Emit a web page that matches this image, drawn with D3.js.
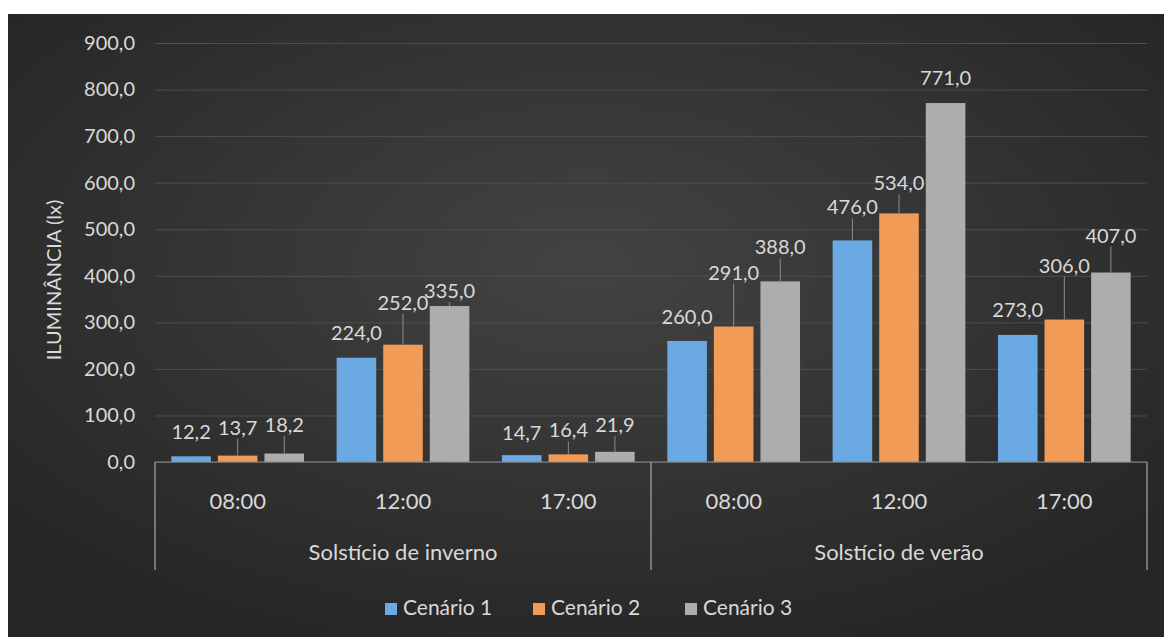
<!DOCTYPE html>
<html lang="pt">
<head>
<meta charset="utf-8">
<title>Iluminância</title>
<script src="https://cdn.jsdelivr.net/npm/d3@7"></script>
<style>
  body { margin: 0; background: #fff; }
  text { font-family: Lato, "Open Sans", sans-serif; fill: #d9d9d9; }
</style>
</head>
<body>
<svg id="chart" width="1164" height="637"></svg>
<script>
// data
var groups = ["Solstício de inverno", "Solstício de verão"];
var hours = ["08:00", "12:00", "17:00"];
var series = ["Cenário 1", "Cenário 2", "Cenário 3"];
var cenario1 = [12.2, 224, 14.7, 260, 476, 273];
var cenario2 = [13.7, 252, 16.4, 291, 534, 306];
var cenario3 = [18.2, 335, 21.9, 388, 771, 407];
var yTicks = [0, 100, 200, 300, 400, 500, 600, 700, 800, 900];

// label placement (px above bar top, leader line on/off) per series
var labelLift = [
  [[24, 0], [25, 0], [22, 0], [24, 0], [33, 1], [25, 0]],
  [[28, 1], [42, 1], [24, 1], [54, 1], [30, 1], [54, 1]],
  [[29, 1], [15, 1], [27, 1], [34, 1], [25, 0], [37, 1]]
];

var colors = ["#6aa9e2", "#f29b57", "#adadad"];
var values = [cenario1, cenario2, cenario3];

var cats = [];
groups.forEach(function(g) { hours.forEach(function(h) { cats.push(g + "|" + h); }); });

var svg = d3.select("#chart");
var defs = svg.append("defs");
var grad = defs.append("radialGradient").attr("id", "bg")
  .attr("cx", "50%").attr("cy", "40%").attr("r", "65%");
grad.append("stop").attr("offset", "0%").attr("stop-color", "#434343");
grad.append("stop").attr("offset", "100%").attr("stop-color", "#262626");

svg.append("rect").attr("x", 8).attr("y", 14).attr("width", 1156).attr("height", 623)
  .attr("fill", "url(#bg)");

var plotLeft = 155, plotRight = 1147, plotTop = 43, base = 462;

var x0 = d3.scaleBand().domain(cats).range([plotLeft, plotRight]);
var x1 = d3.scaleBand().domain(series).range([0, x0.bandwidth()])
  .paddingInner(0.15).paddingOuter(0.35);
var y = d3.scaleLinear().domain([0, 900]).range([base, plotTop]);

var pt = d3.formatLocale({ decimal: ",", thousands: ".", grouping: [3], currency: ["", ""] });
var fmt = pt.format(".1f");

// gridlines + tick labels
var yAxis = d3.axisLeft(y).tickValues(yTicks).tickFormat(fmt)
  .tickSize(-(plotRight - plotLeft)).tickPadding(20);
var gy = svg.append("g").attr("transform", "translate(" + plotLeft + ",0)").call(yAxis);
gy.select(".domain").remove();
gy.selectAll(".tick line").attr("stroke", "#4e4e4e").attr("stroke-width", 1);
gy.selectAll(".tick text").attr("fill", "#d9d9d9").style("font-size", "20px")
  .style("font-family", "Lato, 'Open Sans', sans-serif");

// y title
svg.append("text")
  .attr("transform", "translate(54,280) rotate(-90)")
  .attr("text-anchor", "middle").attr("dy", "0.35em")
  .style("font-size", "20px")
  .text("ILUMINÂNCIA (lx)");

// bars
series.forEach(function(s, si) {
  svg.append("g").selectAll("rect")
    .data(values[si])
    .join("rect")
    .attr("x", function(d, i) { return x0(cats[i]) + x1(s); })
    .attr("y", function(d) { return y(d); })
    .attr("width", x1.bandwidth())
    .attr("height", function(d) { return base - y(d); })
    .attr("fill", colors[si]);
});

// baseline
svg.append("line").attr("x1", plotLeft).attr("x2", plotRight).attr("y1", base).attr("y2", base)
  .attr("stroke", "#8a8a8a").attr("stroke-width", 1.2);

// data labels
series.forEach(function(s, si) {
  var g = svg.append("g");
  values[si].forEach(function(d, i) {
    var cx = x0(cats[i]) + x1(s) + x1.bandwidth() / 2;
    var lift = labelLift[si][i];
    var ly = y(d) - lift[0];
    if (lift[1]) {
      g.append("line").attr("x1", cx).attr("x2", cx)
        .attr("y1", ly + 11).attr("y2", y(d))
        .attr("stroke", "#8c8c8c").attr("stroke-width", 1);
    }
    g.append("text").attr("x", cx).attr("y", ly)
      .attr("text-anchor", "middle").attr("dy", "0.35em")
      .style("font-size", "20px")
      .text(fmt(d));
  });
});

// category axis: hours + groups
var gx = svg.append("g");
cats.forEach(function(c) {
  gx.append("text")
    .attr("x", x0(c) + x0.bandwidth() / 2).attr("y", 501)
    .attr("text-anchor", "middle").attr("dy", "0.35em")
    .style("font-size", "22px")
    .text(c.split("|")[1]);
});
groups.forEach(function(g, gi) {
  var first = x0(g + "|" + hours[0]);
  var last = x0(g + "|" + hours[hours.length - 1]) + x0.bandwidth();
  gx.append("text")
    .attr("x", (first + last) / 2).attr("y", 552)
    .attr("text-anchor", "middle").attr("dy", "0.35em")
    .style("font-size", "22px")
    .text(g);
  if (gi === 0) {
    gx.append("line").attr("x1", first).attr("x2", first).attr("y1", base).attr("y2", 570)
      .attr("stroke", "#a8a8a8").attr("stroke-width", 1.2);
  }
  gx.append("line").attr("x1", last).attr("x2", last).attr("y1", base).attr("y2", 570)
    .attr("stroke", "#a8a8a8").attr("stroke-width", 1.2);
});

// legend
var legX = [385, 533, 685];
var leg = svg.append("g");
series.forEach(function(s, si) {
  leg.append("rect").attr("x", legX[si]).attr("y", 603).attr("width", 12).attr("height", 12)
    .attr("fill", colors[si]);
  leg.append("text").attr("x", legX[si] + 18).attr("y", 608).attr("dy", "0.35em")
    .style("font-size", "21px")
    .text(s);
});
</script>
</body>
</html>
